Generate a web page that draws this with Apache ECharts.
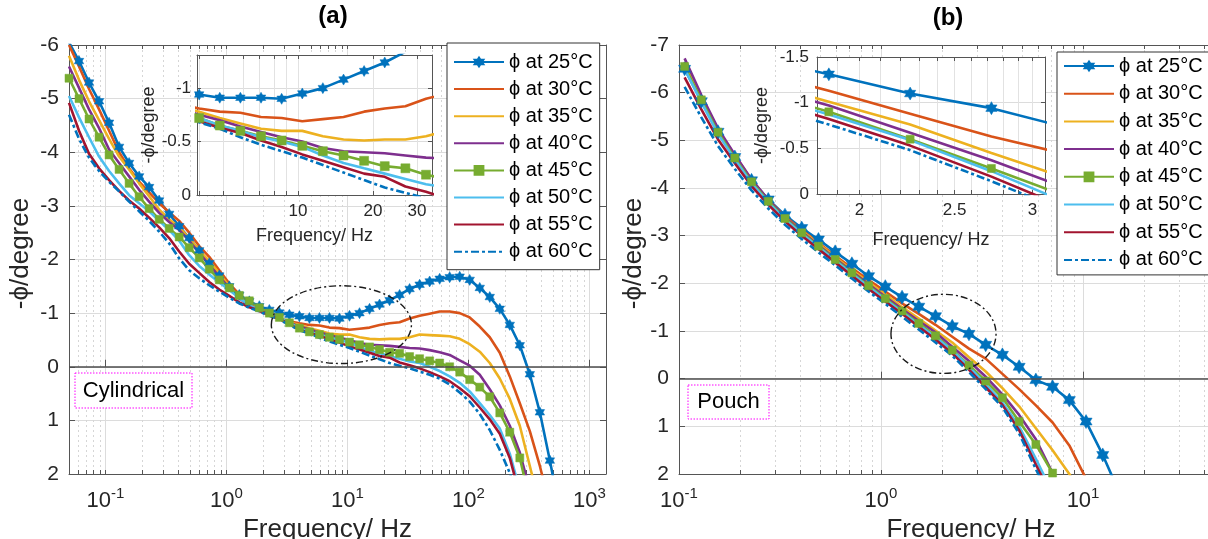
<!DOCTYPE html>
<html><head><meta charset="utf-8">
<script src="https://cdn.jsdelivr.net/npm/echarts@6/dist/echarts.min.js"></script>
<style>html,body{margin:0;padding:0;background:#fff}#c{width:1208px;height:539px}</style>
</head><body><div id="c"></div>
<script>
const FONT = "'Liberation Sans', Arial, Helvetica, sans-serif";
const names = ['ϕ at 25°C','ϕ at 30°C','ϕ at 35°C','ϕ at 40°C','ϕ at 45°C','ϕ at 50°C','ϕ at 55°C','ϕ at 60°C'];

// ---- (a) Cylindrical ----
const freqA = [0.05,0.0605,0.0732,0.0886,0.1072,0.1297,0.1569,0.1899,0.2297,0.278,0.3364,0.407,0.4925,0.5959,0.7211,0.8725,1.056,1.277,1.546,1.87,2.263,2.738,3.313,4.009,4.851,5.87,7.103,8.594,10.4,12.58,15.23,18.42,22.29,26.98,32.64,39.5,47.79,57.83,69.97,84.67,102.4,124,150,181.5,219.6,265.7,321.5,389.1,470.8,569.6];
const a25 = [-6.05,-5.7,-5.3,-4.95,-4.55,-4.1,-3.8,-3.55,-3.35,-3.1,-2.85,-2.62,-2.4,-2.17,-1.93,-1.7,-1.5,-1.34,-1.22,-1.13,-1.06,-1.01,-0.97,-0.94,-0.91,-0.91,-0.91,-0.9,-0.95,-1.0,-1.08,-1.16,-1.24,-1.34,-1.45,-1.53,-1.59,-1.64,-1.67,-1.68,-1.62,-1.47,-1.3,-1.08,-0.78,-0.4,0.14,0.85,1.75,2.7];
const a30 = [-6.0,-5.6,-5.18,-4.8,-4.4,-4.0,-3.7,-3.45,-3.25,-3.05,-2.88,-2.72,-2.5,-2.25,-2.05,-1.8,-1.55,-1.35,-1.18,-1.05,-0.97,-0.9,-0.85,-0.81,-0.78,-0.77,-0.73,-0.72,-0.69,-0.71,-0.73,-0.78,-0.81,-0.83,-0.9,-0.95,-0.99,-1.03,-1.03,-1.0,-0.92,-0.75,-0.55,-0.26,0.18,0.68,1.2,1.85,2.6];
const a35 = [-5.8,-5.35,-4.95,-4.6,-4.25,-3.92,-3.68,-3.42,-3.18,-2.93,-2.75,-2.6,-2.4,-2.17,-1.97,-1.74,-1.5,-1.3,-1.15,-1.04,-0.96,-0.89,-0.83,-0.78,-0.72,-0.67,-0.62,-0.6,-0.6,-0.55,-0.52,-0.51,-0.52,-0.52,-0.55,-0.6,-0.59,-0.58,-0.57,-0.52,-0.42,-0.28,-0.07,0.22,0.6,1.1,1.85,2.6];
const a40 = [-5.6,-5.2,-4.8,-4.45,-4.05,-3.8,-3.55,-3.3,-3.08,-2.87,-2.7,-2.55,-2.35,-2.12,-1.9,-1.68,-1.47,-1.28,-1.14,-1.04,-0.96,-0.89,-0.82,-0.75,-0.7,-0.64,-0.59,-0.54,-0.5,-0.44,-0.41,-0.4,-0.39,-0.37,-0.35,-0.34,-0.31,-0.27,-0.22,-0.12,-0.02,0.15,0.42,0.72,1.1,1.6,2.3];
const a45 = [-5.38,-5.0,-4.62,-4.28,-3.95,-3.68,-3.42,-3.17,-2.95,-2.75,-2.58,-2.42,-2.22,-2.03,-1.82,-1.62,-1.47,-1.33,-1.23,-1.1,-1.0,-0.92,-0.82,-0.72,-0.65,-0.6,-0.55,-0.51,-0.46,-0.41,-0.37,-0.32,-0.27,-0.25,-0.19,-0.15,-0.11,-0.07,0.0,0.1,0.24,0.38,0.56,0.86,1.22,1.7,2.5];
const a50 = [-5.05,-4.65,-4.28,-3.92,-3.65,-3.42,-3.2,-3.05,-2.9,-2.72,-2.55,-2.35,-2.08,-1.88,-1.72,-1.57,-1.43,-1.28,-1.15,-1.05,-0.98,-0.91,-0.82,-0.72,-0.65,-0.6,-0.54,-0.5,-0.45,-0.37,-0.3,-0.25,-0.2,-0.15,-0.1,-0.07,0.0,0.08,0.18,0.3,0.46,0.68,0.9,1.15,1.62,2.3];
const a55 = [-4.92,-4.4,-3.97,-3.7,-3.48,-3.28,-3.1,-2.95,-2.78,-2.6,-2.4,-2.15,-1.92,-1.75,-1.58,-1.44,-1.32,-1.2,-1.11,-1.05,-0.97,-0.89,-0.8,-0.69,-0.63,-0.58,-0.51,-0.45,-0.38,-0.32,-0.26,-0.2,-0.17,-0.08,-0.03,0.03,0.1,0.18,0.27,0.4,0.55,0.76,0.98,1.25,1.7,2.4];
const a60 = [-4.7,-4.25,-3.9,-3.65,-3.45,-3.27,-3.08,-2.9,-2.72,-2.52,-2.3,-2.02,-1.8,-1.65,-1.52,-1.4,-1.29,-1.18,-1.1,-1.03,-0.95,-0.88,-0.78,-0.68,-0.62,-0.54,-0.47,-0.41,-0.35,-0.28,-0.21,-0.14,-0.07,-0.02,0.03,0.09,0.15,0.22,0.33,0.48,0.65,0.88,1.18,1.55,1.98,2.5];

// ---- (b) Pouch ----
const freqB = [0.1066,0.129,0.156,0.189,0.2286,0.2766,0.3347,0.405,0.49,0.593,0.7175,0.868,1.05,1.271,1.538,1.861,2.252,2.725,3.297,3.989,4.827,5.841,7.068,8.552,10.35,12.52,15.15];
const b25 = [-6.5,-5.82,-5.18,-4.65,-4.16,-3.76,-3.43,-3.16,-2.92,-2.66,-2.41,-2.15,-1.93,-1.71,-1.51,-1.31,-1.1,-0.94,-0.71,-0.5,-0.25,0.03,0.17,0.45,0.9,1.6,2.4];
const b30 = [-6.65,-5.9,-5.22,-4.68,-4.17,-3.75,-3.4,-3.12,-2.85,-2.58,-2.32,-2.07,-1.83,-1.58,-1.36,-1.13,-0.88,-0.63,-0.42,-0.1,0.22,0.56,0.92,1.4,2.1];
const b35 = [-6.62,-5.88,-5.2,-4.66,-4.15,-3.73,-3.38,-3.1,-2.83,-2.55,-2.28,-2.02,-1.77,-1.5,-1.26,-1.01,-0.76,-0.45,-0.15,0.2,0.58,1.04,1.5,2.0,2.6];
const b40 = [-6.72,-5.95,-5.25,-4.7,-4.18,-3.75,-3.38,-3.08,-2.8,-2.52,-2.25,-1.98,-1.72,-1.46,-1.21,-0.97,-0.67,-0.37,-0.04,0.33,0.76,1.27,1.98,2.7];
const b45 = [-6.55,-5.85,-5.17,-4.63,-4.13,-3.72,-3.36,-3.06,-2.78,-2.5,-2.22,-1.95,-1.68,-1.42,-1.16,-0.9,-0.6,-0.28,0.05,0.4,0.9,1.38,1.98,2.7];
const b50 = [-6.5,-5.8,-5.13,-4.6,-4.1,-3.7,-3.34,-3.04,-2.76,-2.48,-2.2,-1.93,-1.66,-1.4,-1.13,-0.87,-0.59,-0.25,0.12,0.5,1.0,1.68,2.4];
const b55 = [-6.32,-5.65,-5.02,-4.52,-4.04,-3.65,-3.3,-3.0,-2.72,-2.44,-2.16,-1.88,-1.62,-1.36,-1.09,-0.82,-0.53,-0.19,0.18,0.55,1.08,1.8,2.5];
const b60 = [-6.12,-5.48,-4.88,-4.4,-3.95,-3.57,-3.23,-2.93,-2.65,-2.38,-2.1,-1.83,-1.57,-1.3,-1.03,-0.76,-0.48,-0.14,0.22,0.6,1.15,1.9,2.6];

// ---- tick labels ----
const xMajorA = [0.1, 1, 10, 100, 1000];
const xMajorB = [0.1, 1, 10];
const insetAXLabels = [10, 20, 30];
const insetAYLabels = [-1, -0.5, 0];
const insetBXLabels = [2, 2.5, 3];
const insetBXTicks = [1.9,2.0,2.1,2.2,2.3,2.4,2.5,2.6,2.7,2.8,2.9,3.0];

// annotation ellipses (data coords: fLow, fHigh, vTop, vBottom)
const ellipseA = [2.35, 33.8, -1.51, -0.06];
const ellipseB = [1.12, 3.71, -1.77, -0.11];

const seriesA = [a25,a30,a35,a40,a45,a50,a55,a60];
const seriesB = [b25,b30,b35,b40,b45,b50,b55,b60];

const AX = '#555', TXT = '#262626', MAJ = '#dcdcdc', MIN = '#d6d6d6';
const HEX = 'path://M0,-100L28.87,-50L86.6,-50L57.7,0L86.6,50L28.87,50L0,100L-28.87,50L-86.6,50L-57.7,0L-86.6,-50L-28.87,-50Z';
const styles = [
  {c:'#0072BD', sym:HEX, s:[11,11,14,13]},
  {c:'#D95319'},{c:'#EDB120'},{c:'#7E2F8E'},
  {c:'#77AC30', sym:'rect', s:[8,9,8,8]},
  {c:'#4DBEEE'},{c:'#A2142F'},
  {c:'#0072BD', dash:[8,3,3,3]}
];

function logPositions(min, max) {
  const out = [];
  for (let e = -3; e <= 4; e++) for (let m = 1; m <= 9; m++) {
    const v = parseFloat((m * Math.pow(10, e)).toPrecision(6));
    if (v >= min * 0.9999 && v <= max * 1.0001) out.push(v);
  }
  return out;
}
const A_MIN = 0.05, A_MAX = 1370, B_MIN = 0.1, B_MAX = 47.1;
const IA_MIN = 3.93, IA_MAX = 34.5, IB_MIN = 1.81, IB_MAX = 3.09;
const minorA = logPositions(A_MIN, A_MAX);
const minorB = logPositions(B_MIN, B_MAX);
const minorIA = logPositions(IA_MIN, IA_MAX);

const supFmt = v => '{b|10}{s|' + Math.round(Math.log10(v)) + '}';
const supRich = {
  b: {fontSize: 22, lineHeight: 30, fontFamily: FONT, color: TXT},
  s: {fontSize: 15, verticalAlign: 'top', fontFamily: FONT, color: TXT}
};
const nameStyle = (sz, pad) => ({fontSize: sz, fontFamily: FONT, color: TXT, padding: pad || 0});

function mainX(grid, min, max, minors, majors, namePad) {
  return [
    {type:'log', gridIndex:grid, min, max, position:'bottom',
     axisLine:{show:true, onZero:false, lineStyle:{color:AX, width:1}},
     axisTick:{show:true, inside:true, length:4, customValues:minors, lineStyle:{color:AX}},
     axisLabel:{show:true, customValues:majors, formatter:supFmt, rich:supRich, margin:12, color:TXT, fontFamily:FONT},
     splitLine:{show:true, lineStyle:{color:MIN, type:[2,3], width:1}},
     name:'Frequency/ Hz', nameLocation:'middle', nameGap:38, nameTextStyle:nameStyle(26, namePad)},
    {type:'log', gridIndex:grid, min, max, position:'top',
     axisLine:{show:true, onZero:false, lineStyle:{color:AX, width:1}},
     axisTick:{show:true, inside:true, length:4, customValues:minors, lineStyle:{color:AX}},
     axisLabel:{show:false}, splitLine:{show:false}},
    {type:'log', gridIndex:grid, min, max, position:'bottom',
     axisLine:{show:false},
     axisTick:{show:true, inside:true, length:7, customValues:majors, lineStyle:{color:AX}},
     axisLabel:{show:false},
     splitLine:{show:true, lineStyle:{color:MAJ, width:1}}}
  ];
}
function insetX(grid, min, max, ticks, labels, gap) {
  return [
    {type:'log', gridIndex:grid, min, max, position:'bottom', z:4,
     axisLine:{show:true, onZero:false, lineStyle:{color:AX, width:1}},
     axisTick:{show:true, inside:true, length:4, customValues:ticks, lineStyle:{color:AX}},
     axisLabel:{show:true, customValues:labels, fontSize:17, margin:8, color:TXT, fontFamily:FONT},
     splitLine:{show:true, lineStyle:{color:'#e2e2e2', width:1}},
     name:'Frequency/ Hz', nameLocation:'middle', nameGap:gap, nameTextStyle:nameStyle(18)},
    {type:'log', gridIndex:grid, min, max, position:'top', z:4,
     axisLine:{show:true, onZero:false, lineStyle:{color:AX, width:1}},
     axisTick:{show:true, inside:true, length:4, customValues:ticks, lineStyle:{color:AX}},
     axisLabel:{show:false}, splitLine:{show:false}}
  ];
}

const xAxis = [].concat(
  mainX(0, A_MIN, A_MAX, minorA, xMajorA, [0, 20, 0, 0]),   // 0,1,2
  insetX(1, IA_MIN, IA_MAX, minorIA, insetAXLabels, 32),   // 3,4
  mainX(2, B_MIN, B_MAX, minorB, xMajorB, [0, 0, 0, 44]),   // 5,6,7
  insetX(3, IB_MIN, IB_MAX, insetBXTicks, insetBXLabels, 37) // 8,9
);

const yAxis = [
  {type:'value', gridIndex:0, min:-6, max:2, interval:1, inverse:true, position:'left',
   axisLine:{show:true, onZero:false, lineStyle:{color:AX}}, axisTick:{show:true, inside:true, length:6, lineStyle:{color:AX}},
   axisLabel:{fontSize:21, margin:10, color:TXT, fontFamily:FONT}, splitLine:{show:true, lineStyle:{color:MAJ}},
   name:'-ϕ/degree', nameLocation:'middle', nameGap:35, nameTextStyle:nameStyle(26, [0, 0, 0, 12])},
  {type:'value', gridIndex:0, min:-6, max:2, interval:1, inverse:true, position:'right',
   axisLine:{show:true, onZero:false, lineStyle:{color:AX}}, axisTick:{show:true, inside:true, length:6, lineStyle:{color:AX}},
   axisLabel:{show:false}, splitLine:{show:false}},
  {type:'value', gridIndex:1, min:-1.31, max:0, inverse:true, position:'left', z:4,
   axisLine:{show:true, onZero:false, lineStyle:{color:AX}}, axisTick:{show:true, inside:true, length:4, customValues:insetAYLabels, lineStyle:{color:AX}},
   axisLabel:{customValues:insetAYLabels, fontSize:17, margin:6, color:TXT, fontFamily:FONT}, splitLine:{show:true, lineStyle:{color:MAJ}},
   name:'-ϕ/degree', nameLocation:'middle', nameGap:33, nameTextStyle:nameStyle(18)},
  {type:'value', gridIndex:1, min:-1.31, max:0, inverse:true, position:'right', z:4,
   axisLine:{show:true, onZero:false, lineStyle:{color:AX}}, axisTick:{show:true, inside:true, length:4, customValues:insetAYLabels, lineStyle:{color:AX}},
   axisLabel:{show:false}, splitLine:{show:false}},
  {type:'value', gridIndex:2, min:-7, max:2, interval:1, inverse:true, position:'left',
   axisLine:{show:true, onZero:false, lineStyle:{color:AX}}, axisTick:{show:true, inside:true, length:6, lineStyle:{color:AX}},
   axisLabel:{fontSize:21, margin:10, color:TXT, fontFamily:FONT}, splitLine:{show:true, lineStyle:{color:MAJ}},
   name:'-ϕ/degree', nameLocation:'middle', nameGap:32, nameTextStyle:nameStyle(26, [0, 0, 0, 12])},
  {type:'value', gridIndex:3, min:-1.5, max:0, interval:0.5, inverse:true, position:'left', z:4,
   axisLine:{show:true, onZero:false, lineStyle:{color:AX}}, axisTick:{show:true, inside:true, length:4, lineStyle:{color:AX}},
   axisLabel:{fontSize:17, margin:8, color:TXT, fontFamily:FONT}, splitLine:{show:true, lineStyle:{color:MAJ}},
   name:'-ϕ/degree', nameLocation:'middle', nameGap:46, nameTextStyle:nameStyle(18)},
  {type:'value', gridIndex:3, min:-1.5, max:0, interval:0.5, inverse:true, position:'right', z:4,
   axisLine:{show:true, onZero:false, lineStyle:{color:AX}}, axisTick:{show:true, inside:true, length:4, lineStyle:{color:AX}},
   axisLabel:{show:false}, splitLine:{show:false}}
];

function mkSeries(list, freq, xi, yi, sizeIdx, z) {
  return list.map((vals, k) => {
    const st = styles[k];
    return {
      type:'line', name:names[k], xAxisIndex:xi, yAxisIndex:yi, z:z,
      data: vals.map((v, i) => [freq[i], v]),
      symbol: st.sym || 'none', symbolSize: st.s ? st.s[sizeIdx] : 0, symbolKeepAspect:true,
      showAllSymbol:true, clip:true, silent:true, animation:false,
      lineStyle:{color:st.c, width:2.6, type: st.dash || 'solid'},
      itemStyle:{color:st.c, borderColor:st.c, borderWidth:0.5}
    };
  });
}
const zeroLine = {silent:true, symbol:'none', label:{show:false}, animation:false,
  lineStyle:{color:'#4d4d4d', width:1.5, type:'solid'}, data:[{yAxis:0}]};

const sMainA = mkSeries(seriesA, freqA, 0, 0, 0, 2);
const sInsetA = mkSeries(seriesA, freqA, 3, 2, 1, 5);
const sMainB = mkSeries(seriesB, freqB, 5, 4, 2, 2);
const sInsetB = mkSeries(seriesB, freqB, 8, 5, 3, 5);
sMainA[0].markLine = zeroLine;
sMainB[0].markLine = JSON.parse(JSON.stringify(zeroLine));

// legend entries: hide the symbol for series drawn without markers
const legendData = names.map((n, k) => styles[k].sym ? {name: n} : {name: n, itemStyle: {opacity: 0}});
const legendBase = {
  data:legendData, orient:'vertical', itemWidth:50, itemHeight:11, selectedMode:false,
  backgroundColor:'#fff', borderColor:'#333', borderWidth:1, z:10,
  textStyle:{fontSize:20, fontFamily:FONT, color:'#000', lineHeight:20}
};

const chart = echarts.init(document.getElementById('c'));
chart.setOption({
  animation:false,
  backgroundColor:'#fff',
  textStyle:{fontFamily:FONT},
  grid:[
    {left:69, top:45, width:537, height:429, containLabel:false, outerBoundsMode:'none'},
    {left:197, top:55, width:235, height:140, show:true, backgroundColor:'#fff', borderWidth:0, z:3, containLabel:false, outerBoundsMode:'none'},
    {left:679, top:45, width:540, height:429, containLabel:false, outerBoundsMode:'none'},
    {left:817, top:57, width:228, height:137, show:true, backgroundColor:'#fff', borderWidth:0, z:3, containLabel:false, outerBoundsMode:'none'}
  ],
  xAxis, yAxis,
  legend:[
    Object.assign({}, legendBase, {left:447, top:43, itemGap:7.1, padding:[9,7,8,6]}),
    Object.assign({}, legendBase, {left:1057, top:52, itemGap:7.7, padding:[4,7,5,6]})
  ],
  series:[].concat(sMainA, sInsetA, sMainB, sInsetB)
});

function ell(si, e) {
  const p1 = chart.convertToPixel({seriesIndex:si}, [e[0], e[2]]);
  const p2 = chart.convertToPixel({seriesIndex:si}, [e[1], e[3]]);
  return {type:'ellipse', z:20, silent:true,
    shape:{cx:(p1[0]+p2[0])/2, cy:(p1[1]+p2[1])/2, rx:Math.abs(p2[0]-p1[0])/2, ry:Math.abs(p2[1]-p1[1])/2},
    style:{fill:'none', stroke:'#1a1a1a', lineWidth:1.4, lineDash:[7,3,2,3]}};
}
function txt(x, y, t, size, weight) {
  return {type:'text', x, y, z:22, silent:true,
    style:{text:t, fontSize:size, fontWeight:weight||'normal', fontFamily:FONT, fill:'#000',
      align:'center', verticalAlign:'middle', textAlign:'center', textVerticalAlign:'middle'}};
}
function box(x, y, w, h) {
  return {type:'rect', z:21, silent:true, shape:{x, y, width:w, height:h},
    style:{fill:'#fff', stroke:'#ff00ff', lineWidth:1, lineDash:[1.5,1.5]}};
}
chart.setOption({
  graphic:[
    ell(0, ellipseA), ell(16, ellipseB),
    box(75, 373, 117, 35), txt(133.5, 391, 'Cylindrical', 22),
    box(688, 385, 81, 34), txt(728.5, 402, 'Pouch', 22),
    txt(333, 16, '(a)', 24, 'bold'), txt(948, 18, '(b)', 24, 'bold')
  ]
});
</script></body></html>
